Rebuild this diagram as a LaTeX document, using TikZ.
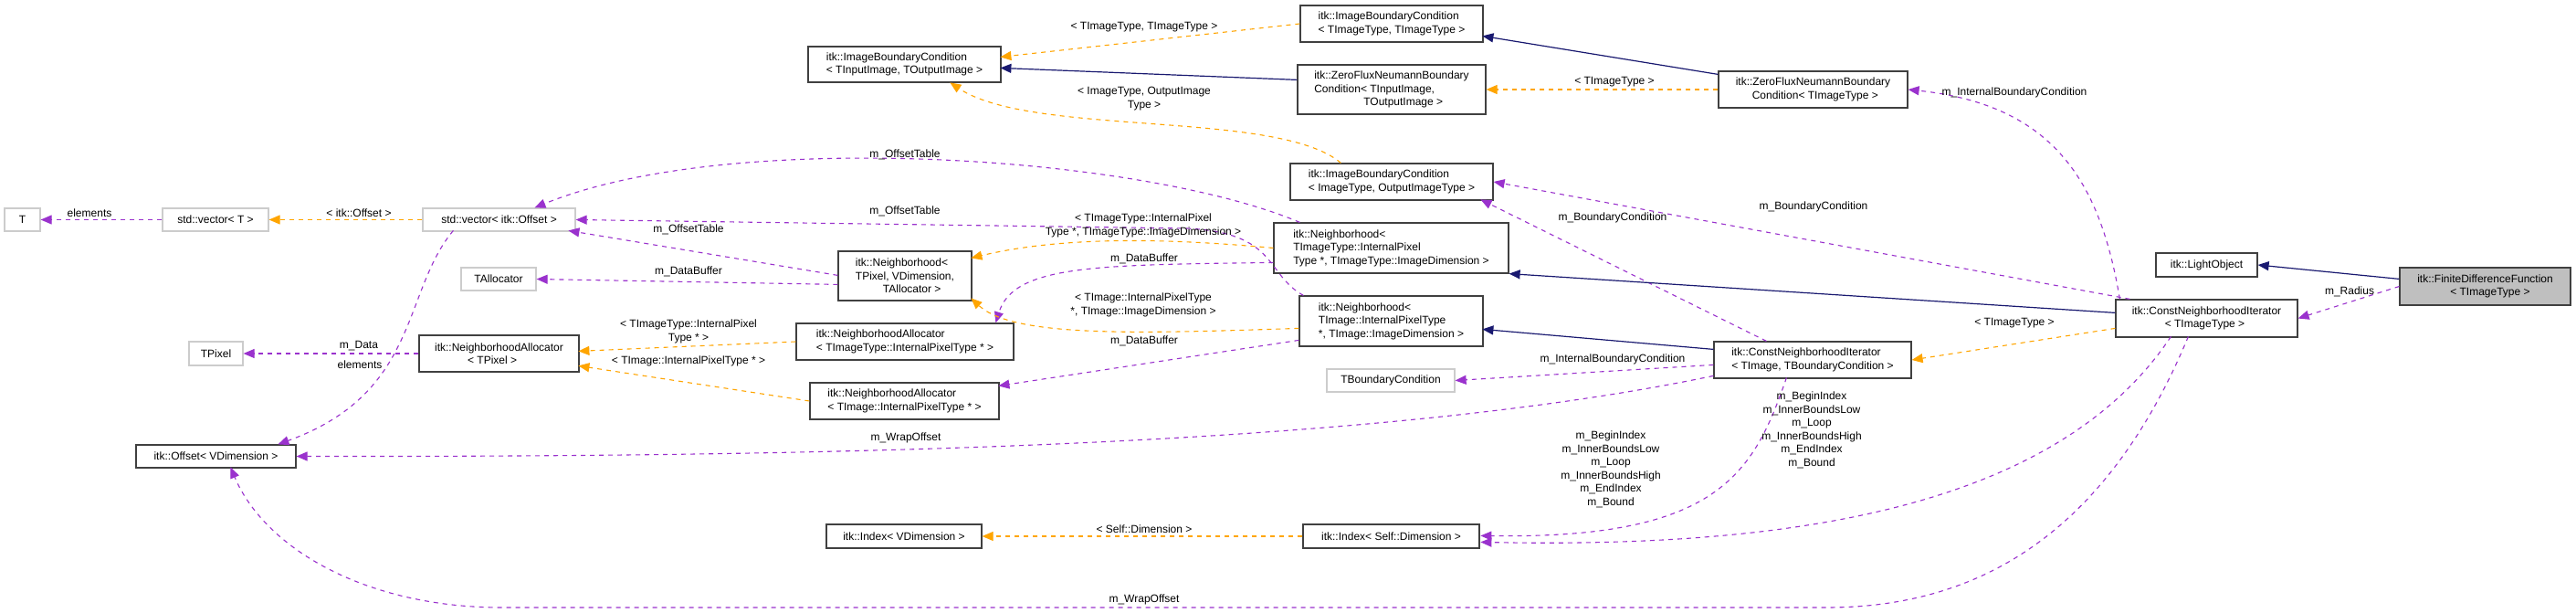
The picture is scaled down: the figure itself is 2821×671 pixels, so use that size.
\documentclass[tikz,border=0pt]{standalone}
\usepackage{fontspec}
\setmainfont{Liberation Sans}
\usetikzlibrary{arrows.meta}
\definecolor{use}{HTML}{9A32CD}
\definecolor{tpl}{HTML}{FFA500}
\definecolor{inh}{HTML}{191970}
\newcommand\bx[7][box]{\node[#1,minimum width={(#4-#2)*1pt},minimum height={(#5-#3)*1pt}] (#7) at ({(#2+#4)/2},{(#3+#5)/2}) {#6};}
\newcommand\lab[3]{\node[lbl] at (#1,#2) {#3};}
\newcommand\at[3]{([shift={(#2,#3)}]#1.north west)}
\begin{document}
\begin{tikzpicture}[x=1pt,y=-1pt,
  font=\fontsize{12}{14.5}\selectfont,
  box/.style={draw=black!75,line width=1.2pt,inner sep=0pt,align=left,fill=white},
  gbox/.style={draw=black!20,line width=1.2pt,inner sep=0pt,align=left,fill=white},
  fbox/.style={draw=black!75,line width=1.2pt,inner sep=0pt,align=left,fill=black!25},
  lbl/.style={inner sep=0pt,align=center},
  use/.style={draw=use,line width=1.1pt,dash pattern=on 5pt off 5pt,-{Triangle[length=12pt,width=10pt,fill=use]}},
  tpl/.style={draw=tpl,line width=1.1pt,dash pattern=on 5pt off 5pt,-{Triangle[length=12pt,width=10pt,fill=tpl]}},
  inh/.style={draw=inh,line width=1.2pt,-{Triangle[length=12pt,width=10pt,fill=inh]}}]
\useasboundingbox[fill=white] (0,0) rectangle (2821,671);
\bx[gbox]{5}{228}{44}{253}{T}{T}
\bx[gbox]{178}{228}{294}{253}{std::vector< T >}{vT}
\bx[gbox]{463}{228}{630}{253}{std::vector< itk::Offset >}{vO}
\bx[gbox]{505}{293}{587}{318}{TAllocator}{TA}
\bx[gbox]{207}{374}{266}{400}{TPixel}{TP}
\bx{459}{367}{634}{407}{itk::NeighborhoodAllocator\\\hspace*{3em}< TPixel >}{NAP}
\bx{149}{487}{324}{512}{itk::Offset< VDimension >}{OV}
\bx{885}{51}{1096}{90}{itk::ImageBoundaryCondition\\< TInputImage, TOutputImage >}{IBCio}
\bx{1424}{6}{1624}{46}{itk::ImageBoundaryCondition\\< TImageType, TImageType >}{IBCtt}
\bx{1421}{71}{1627}{125}{itk::ZeroFluxNeumannBoundary\\Condition< TInputImage,\\\hspace*{4.5em}TOutputImage >}{ZFio}
\bx{1882}{78}{2089}{118}{itk::ZeroFluxNeumannBoundary\\\hspace*{1.5em}Condition< TImageType >}{ZFt}
\bx{1413}{179}{1635}{219}{itk::ImageBoundaryCondition\\< ImageType, OutputImageType >}{IBCot}
\bx{1395}{244}{1652}{299}{itk::Neighborhood<\\ TImageType::InternalPixel\\Type *, TImageType::ImageDimension >}{NbT}
\bx{918}{275}{1064}{329}{itk::Neighborhood<\\ TPixel, VDimension,\\\hspace*{2.5em}TAllocator >}{NbP}
\bx{872}{354}{1110}{394}{itk::NeighborhoodAllocator\\< TImageType::InternalPixelType * >}{NAT}
\bx{887}{419}{1094}{459}{itk::NeighborhoodAllocator\\< TImage::InternalPixelType * >}{NAI}
\bx{1423}{324}{1624}{379}{itk::Neighborhood<\\ TImage::InternalPixelType\\ *, TImage::ImageDimension >}{NbI}
\bx[gbox]{1453}{404}{1593}{429}{TBoundaryCondition}{TBC}
\bx{1877}{374}{2093}{414}{itk::ConstNeighborhoodIterator\\< TImage, TBoundaryCondition >}{CNI2}
\bx{2317}{328}{2516}{369}{itk::ConstNeighborhoodIterator\\\hspace*{3em}< TImageType >}{CNI}
\bx{2361}{277}{2472}{303}{itk::LightObject}{LO}
\bx[fbox]{2628}{293}{2815}{334}{itk::FiniteDifferenceFunction\\\hspace*{3em}< TImageType >}{FDF}
\bx{905}{574}{1075}{600}{itk::Index< VDimension >}{IxV}
\bx{1427}{574}{1620}{600}{itk::Index< Self::Dimension >}{IxS}
% usage edges
\draw[use] (vT.west) -- (T.east); \lab{98}{233}{elements}
\draw[use] \at{vO}{34}{25} .. controls (440,320) and (460,430) .. \at{OV}{156}{0}; \lab{394}{399}{elements}
\draw[use] (NAP.west) -- (TP.east); \lab{393}{379}{m\_Data}
\draw[use] \at{NbP}{0}{27} -- \at{vO}{160}{25}; \lab{754}{251}{m\_OffsetTable}
\draw[use] \at{NbP}{0}{37} -- (TA.east); \lab{754}{297}{m\_DataBuffer}
\draw[use] \at{NbT}{29}{0} .. controls (1250,170) and (800,140) .. \at{vO}{123}{0}; \lab{991}{169}{m\_OffsetTable}
\draw[use] \at{NbI}{5}{0} .. controls (1385,300) and (1400,255) .. (1300,250) -- (vO.east); \lab{991}{231}{m\_OffsetTable}
\draw[use] \at{NbT}{0}{44} .. controls (1200,290) and (1110,290) .. \at{NAT}{219}{0}; \lab{1253}{283}{m\_DataBuffer}
\draw[use] \at{NbI}{0}{49} -- \at{NAI}{207}{4}; \lab{1253}{373}{m\_DataBuffer}
\draw[use] \at{CNI2}{58}{0} -- \at{IBCot}{209}{40}; \lab{1766}{238}{m\_BoundaryCondition}
\draw[use] \at{CNI}{16}{0} -- (IBCot.east); \lab{1986}{226}{m\_BoundaryCondition}
\draw[use] \at{CNI}{5}{0} .. controls (2300,200) and (2250,115) .. (ZFt.east); \lab{2206}{101}{m\_InternalBoundaryCondition}
\draw[use] \at{CNI2}{0}{26} -- (TBC.east); \lab{1766}{393}{m\_InternalBoundaryCondition}
\draw[use] \at{CNI2}{0}{38} .. controls (1500,490) and (900,500) .. (OV.east); \lab{992}{479}{m\_WrapOffset}
\draw[use] \at{CNI}{80}{41} .. controls (2300,600) and (2150,665) .. (2000,665) -- (550,665) .. controls (400,665) and (290,600) .. \at{OV}{104}{25}; \lab{1253}{656}{m\_WrapOffset}
\draw[use] \at{CNI2}{80}{40} .. controls (1920,520) and (1880,590) .. \at{IxS}{195}{13};
\draw[use] \at{CNI}{61}{41} .. controls (2250,560) and (1950,600) .. \at{IxS}{195}{20};
\node[lbl] at (1764,514) {m\_BeginIndex\\m\_InnerBoundsLow\\m\_Loop\\m\_InnerBoundsHigh\\m\_EndIndex\\m\_Bound};
\node[lbl] at (1984,471) {m\_BeginIndex\\m\_InnerBoundsLow\\m\_Loop\\m\_InnerBoundsHigh\\m\_EndIndex\\m\_Bound};
\draw[use] (FDF.west) -- (CNI.east); \lab{2573}{319}{m\_Radius}
% template edges
\draw[tpl] (vO.west) -- (vT.east); \lab{393}{233}{< itk::Offset >}
\draw[tpl] (NAT.west) -- \at{NAP}{175}{18}; \lab{754}{363}{< TImageType::InternalPixel\\Type * >}
\draw[tpl] (NAI.west) -- \at{NAP}{175}{34}; \lab{754}{395}{< TImage::InternalPixelType * >}
\draw[tpl] (NbT.west) .. controls (1250,258) and (1150,262) .. \at{NbP}{146}{8}; \lab{1252}{247}{< TImageType::InternalPixel\\Type *, TImageType::ImageDimension >}
\draw[tpl] \at{NbI}{0}{36} .. controls (1250,365) and (1110,370) .. \at{NbP}{146}{52}; \lab{1252}{334}{< TImage::InternalPixelType\\*, TImage::ImageDimension >}
\draw[tpl] (IBCtt.west) -- \at{IBCio}{211}{12}; \lab{1253}{30}{< TImageType, TImageType >}
\draw[tpl] (ZFt.west) -- (ZFio.east); \lab{1768}{90}{< TImageType >}
\draw[tpl] \at{IBCot}{56}{0} .. controls (1400,120) and (1130,150) .. \at{IBCio}{156}{40}; \lab{1253}{108}{< ImageType, OutputImage\\Type >}
\draw[tpl] \at{CNI}{0}{32} -- (CNI2.east); \lab{2206}{354}{< TImageType >}
\draw[tpl] (IxS.west) -- (IxV.east); \lab{1253}{579}{< Self::Dimension >}
% inheritance
\draw[inh] \at{FDF}{0}{13} -- (LO.east);
\draw[inh] \at{CNI}{0}{15} -- (NbT.south east);
\draw[inh] \at{CNI2}{0}{9} -- \at{NbI}{201}{37};
\draw[inh] \at{ZFt}{0}{4} -- \at{IBCtt}{200}{34};
\draw[inh] \at{ZFio}{0}{17} -- \at{IBCio}{211}{24};
\end{tikzpicture}
\end{document}
